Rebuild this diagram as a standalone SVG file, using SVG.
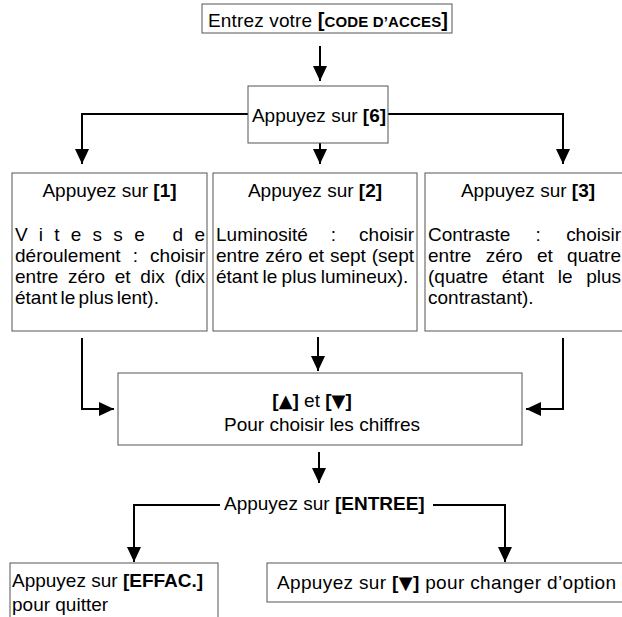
<svg xmlns="http://www.w3.org/2000/svg" width="622" height="617" viewBox="0 0 622 617">
<style>
.box{fill:#fff;stroke:#555;stroke-width:1}
.t{font-family:"Liberation Sans",Arial,sans-serif;font-size:19px;fill:#000}
.b{font-weight:bold}
.tri{font-family:"DejaVu Sans",sans-serif;font-size:18px;font-weight:normal}
.ln{stroke:#000;stroke-width:2;fill:none}
</style>
<defs>
<marker id="ah" viewBox="0 0 15 14" refX="15" refY="7" markerWidth="15" markerHeight="14" markerUnits="userSpaceOnUse" orient="auto">
<path d="M0,0 L15,7 L0,14 Z" fill="#000"/>
</marker>
</defs>
<rect width="622" height="617" fill="#fff"/>

<g id="connectors">
<line class="ln" x1="320" y1="46" x2="320" y2="81" marker-end="url(#ah)"/>
<polyline class="ln" points="248,114 82,114 82,164" marker-end="url(#ah)"/>
<polyline class="ln" points="388,114 563,114 563,164" marker-end="url(#ah)"/>
<line class="ln" x1="320" y1="143" x2="320" y2="164" marker-end="url(#ah)"/>
<polyline class="ln" points="82,338 82,409 114,409" marker-end="url(#ah)"/>
<line class="ln" x1="318" y1="337" x2="318" y2="371" marker-end="url(#ah)"/>
<polyline class="ln" points="563,338 563,409 526,409" marker-end="url(#ah)"/>
<line class="ln" x1="319" y1="452" x2="319" y2="483" marker-end="url(#ah)"/>
<polyline class="ln" points="220,505 134,505 134,562" marker-end="url(#ah)"/>
<polyline class="ln" points="433,505 505,505 505,562" marker-end="url(#ah)"/>
</g>

<g id="n-code">
<rect class="box" x="202" y="4" width="250" height="29"/>
<text class="t" x="208" y="27" textLength="240" lengthAdjust="spacing">Entrez votre <tspan class="b" font-size="20">[</tspan><tspan class="b" font-size="15">CODE D’ACCES</tspan><tspan class="b" font-size="20">]</tspan></text>
</g>

<g id="n-6">
<rect class="box" x="248" y="86" width="140" height="57"/>
<text class="t" x="319" y="122" text-anchor="middle">Appuyez sur <tspan class="b">[6]</tspan></text>
</g>

<g id="n-1">
<rect class="box" x="12" y="173" width="195" height="158"/>
<text class="t" x="109.5" y="197" text-anchor="middle">Appuyez sur <tspan class="b">[1]</tspan></text>
<text class="t" x="15" y="241" textLength="190" lengthAdjust="spacing">Vitesse de</text>
<text class="t" x="15" y="262" word-spacing="6.8" textLength="190" lengthAdjust="spacing">déroulement : choisir</text>
<text class="t" x="15" y="283" word-spacing="4.5" textLength="190" lengthAdjust="spacing">entre zéro et dix (dix</text>
<text class="t" x="15" y="304" word-spacing="-2">étant le plus lent).</text>
</g>

<g id="n-2">
<rect class="box" x="213" y="173" width="204" height="158"/>
<text class="t" x="315" y="197" text-anchor="middle">Appuyez sur <tspan class="b">[2]</tspan></text>
<text class="t" x="216" y="241" word-spacing="17.7" textLength="198" lengthAdjust="spacing">Luminosité : choisir</text>
<text class="t" x="216" y="262" word-spacing="0.6" textLength="198" lengthAdjust="spacing">entre zéro et sept (sept</text>
<text class="t" x="216" y="283" word-spacing="-1">étant le plus lumineux).</text>
</g>

<g id="n-3">
<rect class="box" x="425" y="173" width="210" height="158"/>
<text class="t" x="528" y="197" text-anchor="middle">Appuyez sur <tspan class="b">[3]</tspan></text>
<text class="t" x="428" y="241" word-spacing="20" textLength="193" lengthAdjust="spacing">Contraste : choisir</text>
<text class="t" x="428" y="262" word-spacing="9" textLength="193" lengthAdjust="spacing">entre zéro et quatre</text>
<text class="t" x="428" y="283" word-spacing="8.4" textLength="193" lengthAdjust="spacing">(quatre étant le plus</text>
<text class="t" x="428" y="304">contrastant).</text>
</g>

<g id="n-chiffres">
<rect class="box" x="118" y="373" width="404" height="72"/>
<text class="t" x="312" y="407" text-anchor="middle"><tspan class="b">[</tspan><tspan class="tri">▲</tspan><tspan class="b">]</tspan> et <tspan class="b">[</tspan><tspan class="tri">▼</tspan><tspan class="b">]</tspan></text>
<text class="t" x="322" y="431" text-anchor="middle">Pour choisir les chiffres</text>
</g>

<g id="n-entree">
<text class="t" x="224" y="510">Appuyez sur  <tspan class="b">[ENTREE]</tspan></text>
</g>

<g id="n-effac">
<rect class="box" x="10" y="563" width="208" height="70"/>
<text class="t" x="12" y="587">Appuyez sur <tspan class="b">[EFFAC.]</tspan></text>
<text class="t" x="12" y="611">pour quitter</text>
</g>

<g id="n-option">
<rect class="box" x="267" y="563" width="370" height="39"/>
<text class="t" x="277" y="589" textLength="339" lengthAdjust="spacing">Appuyez sur <tspan class="b">[</tspan><tspan class="tri">▼</tspan><tspan class="b">]</tspan> pour changer d’option</text>
</g>
</svg>
